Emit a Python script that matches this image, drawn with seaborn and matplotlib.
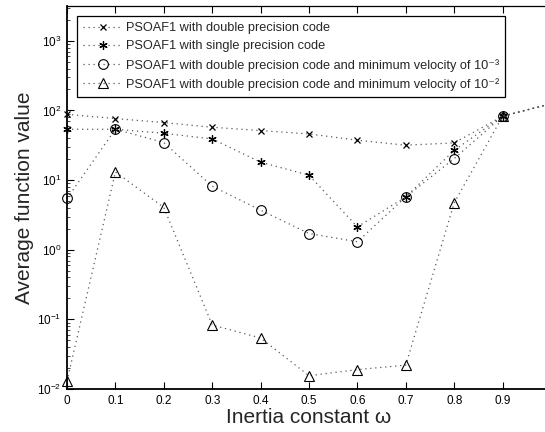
import matplotlib
matplotlib.use("Agg")
import matplotlib.pyplot as plt
from matplotlib.ticker import LogLocator, NullFormatter, FixedLocator
import numpy as np
import pandas as pd
import seaborn as sns

# Inertia constant values and the average function value of each PSOAF1 variant
omega = [0.0, 0.1, 0.2, 0.3, 0.4, 0.5, 0.6, 0.7, 0.8, 0.9, 1.0]
double_prec = [88, 76.5, 67, 57.4, 51.4, 46, 37.4, 31.7, 34.2, 82.6, 125]
single_prec = [53.7, 53.7, 47, 39, 18.1, 11.75, 2.13, 5.74, 26.8, 82.6, 125]
double_vmin3 = [5.45, 53.7, 34.6, 8.17, 3.70, 1.71, 1.30, 5.74, 20.4, 82.6, 125]
double_vmin2 = [0.013, 13.1, 4.05, 0.083, 0.054, 0.0155, 0.019, 0.022, 4.71, 82.6, 125]

series_labels = [
    "PSOAF1 with double precision code",
    "PSOAF1 with single precision code",
    "PSOAF1 with double precision code and minimum velocity of 10\u207b\u00b3",
    "PSOAF1 with double precision code and minimum velocity of 10\u207b\u00b2",
]
xtick_values = [0.0, 0.1, 0.2, 0.3, 0.4, 0.5, 0.6, 0.7, 0.8, 0.9]
xtick_labels = ["0", "0.1", "0.2", "0.3", "0.4", "0.5", "0.6", "0.7", "0.8", "0.9"]

df = pd.DataFrame({
    "omega": omega * 4,
    "value": double_prec + single_prec + double_vmin3 + double_vmin2,
    "series": sum([[lab] * len(omega) for lab in series_labels], []),
})

sns.set_style("ticks")
plt.rcParams["font.family"] = ["Liberation Sans", "DejaVu Sans"]
plt.rcParams["mathtext.fontset"] = "custom"
plt.rcParams["mathtext.rm"] = "Liberation Sans"
plt.rcParams["mathtext.it"] = "Liberation Sans:italic"
plt.rcParams["mathtext.bf"] = "Liberation Sans:bold"

fig = plt.figure(figsize=(5.45, 4.32), dpi=100)
ax = fig.add_axes([67 / 545, 43 / 432, 484 / 545, 383 / 432])

marker_styles = [
    dict(marker="x", markersize=5, markeredgewidth=0.9, markerfacecolor="none"),
    dict(marker=(6, 2, 0), markersize=6, markeredgewidth=0.9, markerfacecolor="none"),
    dict(marker="o", markersize=7, markeredgewidth=0.8, markerfacecolor="none"),
    dict(marker="^", markersize=7.5, markeredgewidth=0.8, markerfacecolor="none"),
]

for lab, mstyle in zip(series_labels, marker_styles):
    sub = df[df["series"] == lab]
    sns.lineplot(
        data=sub, x="omega", y="value", ax=ax, label=lab,
        color="0.35", linewidth=0.9, linestyle=(0, (1, 3)),
        markeredgecolor="black", clip_on=False, **mstyle,
    )

ax.set_yscale("log")
ax.set_xlim(0, 1.0)
ax.set_ylim(1e-2, 10 ** 3.5)

ax.xaxis.set_major_locator(FixedLocator(xtick_values))
ax.set_xticklabels(xtick_labels)
ax.yaxis.set_major_locator(LogLocator(base=10, numticks=10))
ax.yaxis.set_minor_locator(LogLocator(base=10, subs=np.arange(2, 10), numticks=20))
ax.yaxis.set_minor_formatter(NullFormatter())

ax.tick_params(axis="both", which="major", direction="in", length=5, width=0.8,
               labelsize=8.5, top=True, pad=4, colors="black")
ax.tick_params(axis="y", which="minor", direction="in", length=2.5, width=0.6)

for side in ["left", "bottom", "top"]:
    ax.spines[side].set_linewidth(1.3)
    ax.spines[side].set_color("black")
ax.spines["top"].set_linewidth(0.9)
ax.spines["right"].set_visible(False)

ax.set_xlabel("Inertia constant ω", fontsize=15, labelpad=1)
ax.set_ylabel("Average function value", fontsize=15, labelpad=2)

leg = ax.legend(
    loc="upper left", bbox_to_anchor=(0.0, 1.0), fontsize=9.2,
    frameon=True, fancybox=False, framealpha=1, edgecolor="black",
    handlelength=3.1, handletextpad=0.3, borderpad=0.45,
    labelspacing=0.5, borderaxespad=0.8, numpoints=1,
)
leg.get_frame().set_linewidth(0.9)

fig.savefig("out.png", dpi=100)
